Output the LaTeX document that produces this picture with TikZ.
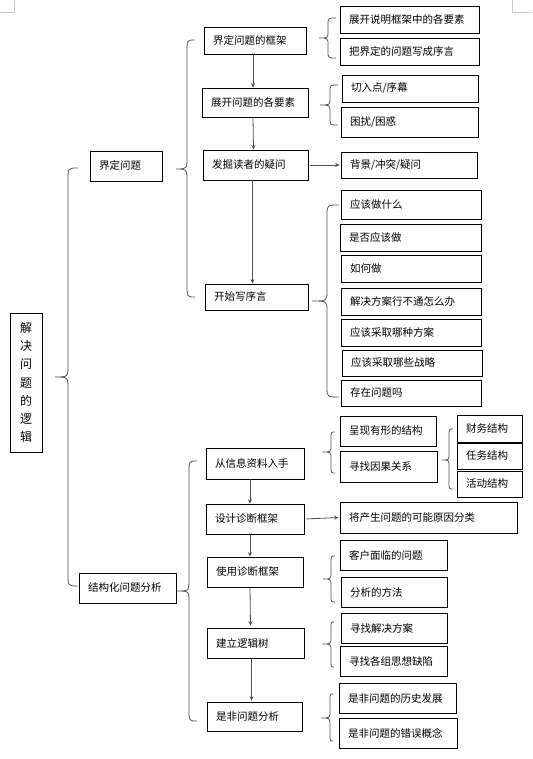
\documentclass[tikz,border=0pt]{standalone}
\usepackage{fontspec}
\setmainfont{Noto Sans CJK SC}
\usetikzlibrary{arrows.meta}
\definecolor{brcol}{HTML}{505050}
\definecolor{markcol}{HTML}{C8C8C8}
\tikzset{
  box/.style={draw=black, line width=0.8pt, inner xsep=9pt, inner ysep=0pt, align=left,
    font=\fontsize{10.5}{12}\selectfont},
  brc/.style={draw=brcol, line width=0.8pt},
  arr/.style={draw=brcol, line width=0.8pt, -{Stealth[length=4.5pt,width=4pt]}},
  cornermark/.style={draw=markcol, line width=0.8pt}
}
\newcommand{\mkbox}[6]{%
  \pgfmathsetmacro\mkbw{#4-#2-18}%
  \pgfmathsetmacro\mkbh{#5-#3}%
  \node[box, text width=\mkbw pt, minimum height=\mkbh pt] (#1) at ({(#2+#4)/2},{(#3+#5)/2}) {#6};}
% end x, spine x, tip x, top y, tip y, bottom y, radius
\newcommand{\mkbrace}[7]{%
  \draw[brc] (#1,#4) .. controls (#2,#4) .. (#2,{#4+#7}) -- (#2,{#5-#7})
     .. controls (#2,#5) .. (#3,#5) .. controls (#2,#5) .. (#2,{#5+#7})
     -- (#2,{#6-#7}) .. controls (#2,#6) .. (#1,#6);}
\begin{document}
\begin{tikzpicture}[x=1pt,y=-1pt]
\useasboundingbox (0,0) rectangle (532,759);
% corner marks
\draw[cornermark] (0,12.5) -- (14.7,12.5) -- (14.7,0);
\draw[cornermark] (512,0) -- (512,12.5) -- (532,12.5);

% root
\node[draw=black, line width=0.8pt, inner sep=0pt, minimum width=32pt, minimum height=139pt,
  align=center, font=\fontsize{12}{18.3}\selectfont] (root) at (26,382.5)
  {解\\决\\问\\题\\的\\逻\\辑};

\mkbox{L1}{90}{151}{162}{181}{界定问题}
\mkbox{L2}{79}{573}{176}{603}{结构化问题分析}

\mkbox{a1}{204}{27}{306}{54}{界定问题的框架}
\mkbox{a2}{202}{88}{308}{117}{展开问题的各要素}
\mkbox{a3}{203}{150}{308}{180}{发掘读者的疑问}
\mkbox{a4}{205}{284}{308}{310}{开始写序言}

\mkbox{b1}{340}{6}{479}{33}{展开说明框架中的各要素}
\mkbox{b2}{340}{38}{479}{65}{把界定的问题写成序言}
\mkbox{b3}{342}{75}{478}{102}{切入点/序幕}
\mkbox{b4}{341}{107}{478}{137}{困扰/困惑}
\mkbox{b5}{341}{152}{477}{178}{背景/冲突/疑问}

\mkbox{c1}{341}{190}{481}{219}{应该做什么}
\mkbox{c2}{340}{224}{481}{251}{是否应该做}
\mkbox{c3}{341}{255}{481}{282}{如何做}
\mkbox{c4}{341}{288}{481}{315}{解决方案行不通怎么办}
\mkbox{c5}{341}{319}{481}{346}{应该采取哪种方案}
\mkbox{c6}{342}{350}{482}{376}{应该采取哪些战略}
\mkbox{c7}{341}{380}{481}{406}{存在问题吗}

\mkbox{d1}{206}{448}{304}{479}{从信息资料入手}
\mkbox{d2}{206}{504}{304}{534}{设计诊断框架}
\mkbox{d3}{207}{557}{303}{587}{使用诊断框架}
\mkbox{d4}{207}{628}{304}{658}{建立逻辑树}
\mkbox{d5}{207}{702}{302}{731}{是非问题分析}

\mkbox{e1}{340}{416}{436}{446}{呈现有形的结构}
\mkbox{e2}{340}{451}{437}{482}{寻找因果关系}
\mkbox{f1}{457}{415}{522}{442}{财务结构}
\mkbox{f2}{457}{443}{522}{469}{任务结构}
\mkbox{f3}{457}{471}{522}{497}{活动结构}
\mkbox{e3}{340}{502}{517}{533}{将产生问题的可能原因分类}
\mkbox{e4}{340}{540}{447}{570}{客户面临的问题}
\mkbox{e5}{341}{577}{447}{607}{分析的方法}
\mkbox{e6}{341}{613}{447}{643}{寻找解决方案}
\mkbox{e7}{340}{646}{447}{676}{寻找各组思想缺陷}
\mkbox{e8}{339}{683}{456}{713}{是非问题的历史发展}
\mkbox{e9}{339}{718}{457}{748}{是非问题的错误概念}

% braces
\mkbrace{78}{68}{55}{168}{377}{586}{12}
\mkbrace{195}{187}{176}{40}{169}{297}{12}
\mkbrace{197}{189}{177}{461}{591}{721}{12}
\mkbrace{336}{328}{319}{18}{38}{58}{7}
\mkbrace{338}{330}{320}{85}{105}{125}{7}
\mkbrace{339}{327}{312}{205}{301}{397}{10}
\mkbrace{335}{331}{322}{432}{452}{473}{7}
\mkbrace{453}{449}{442}{429}{460}{489}{7}
\mkbrace{335}{331}{323}{556}{579}{602}{7}
\mkbrace{334}{331}{322}{622}{644}{667}{7}
\mkbrace{333}{330}{321}{694}{718}{741}{7}

% arrows
\draw[arr] ([xshift=-2pt]a1.south) -- ([xshift=-2pt]a2.north);
\draw[arr] ([xshift=-2pt]a2.south) -- ([xshift=-2pt]a3.north);
\draw[arr] ([xshift=-3pt]a3.south) -- ([xshift=-4pt]a4.north);
\draw[arr, shorten <=2pt, shorten >=1pt] (a3.east) -- (b5.west);
\draw[arr] ([xshift=-5pt]d1.south) -- ([xshift=-5pt]d2.north);
\draw[arr] ([xshift=-5pt]d2.south) -- ([xshift=-5pt]d3.north);
\draw[arr, shorten >=2pt] ([xshift=-5pt]d3.south) -- ([xshift=-5pt]d4.north);
\draw[arr, shorten >=1pt] ([xshift=-4pt]d4.south) -- ([xshift=-3pt]d5.north);
\draw[arr, shorten <=2pt, shorten >=1pt] (d2.east) -- (e3.west);
\end{tikzpicture}
\end{document}
